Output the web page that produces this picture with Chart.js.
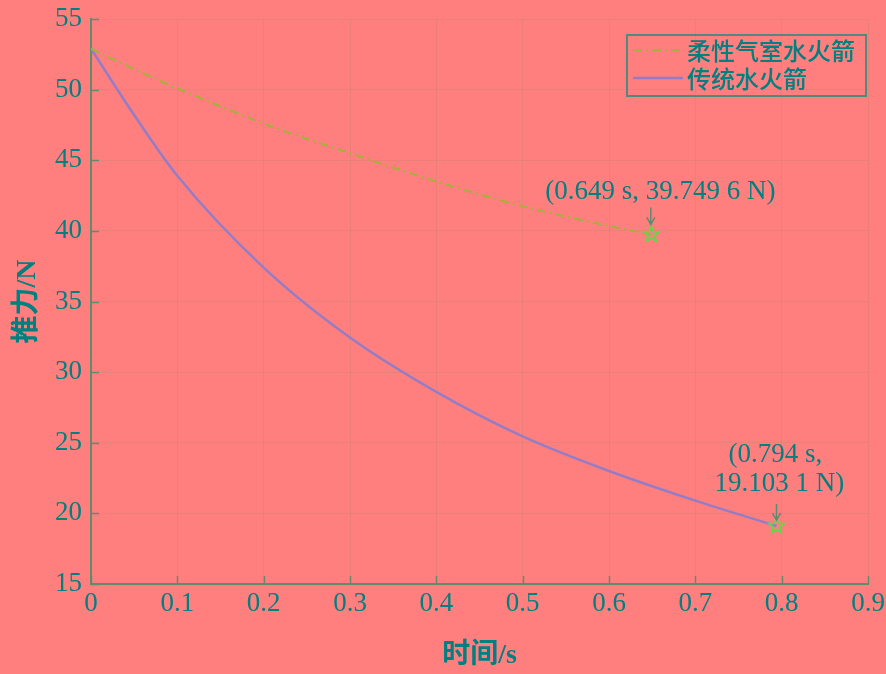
<!DOCTYPE html>
<html>
<head>
<meta charset="utf-8">
<script src="https://cdn.jsdelivr.net/npm/chart.js@4/dist/chart.umd.min.js"></script>
<style>
  html, body { margin: 0; padding: 0; background: #ff7f7f; }
  #wrap { width: 886px; height: 674px; }
</style>
</head>
<body>
<div id="wrap"><canvas id="c" width="886" height="674"></canvas></div>
<script>
// ---- data ----
const flexTime   = [0, 0.05, 0.1, 0.2, 0.3, 0.4, 0.5, 0.6, 0.649];
const flexThrust = [52.9, 51.45, 50.1, 47.6, 45.5, 43.5, 41.75, 40.35, 39.7496];
const tradTime   = [0, 0.05, 0.1, 0.2, 0.3, 0.4, 0.5, 0.6, 0.7, 0.794];
const tradThrust = [52.9, 48.2, 43.9, 37.4, 32.45, 28.6, 25.45, 23.0, 20.9, 19.1031];
const seriesNames = ['柔性气室水火箭', '传统水火箭'];
const xTickValues = [0, 0.1, 0.2, 0.3, 0.4, 0.5, 0.6, 0.7, 0.8, 0.9];
const xTickLabels = ['0', '0.1', '0.2', '0.3', '0.4', '0.5', '0.6', '0.7', '0.8', '0.9'];
const yTickValues = [15, 20, 25, 30, 35, 40, 45, 50, 55];
const yTickLabels = ['15', '20', '25', '30', '35', '40', '45', '50', '55'];
const annotations = [
  { series: 0, lines: ['(0.649 s, 39.749 6 N)'] },
  { series: 1, lines: ['(0.794 s,', '19.103 1 N)'] }
];
const xTitle = '时间/s';
const yTitle = '推力/N';

// ---- styles ----
const BG = '#ff7f7f';
const TEXT = '#008080';
const AXIS = '#5f8c6c';
const GRID = 'rgba(160,130,90,0.22)';
const FLEX_COLOR = '#a2b23a';
const TRAD_COLOR = '#957dc6';
const STAR_COLOR = '#5fd84a';
const ARROW_COLOR = '#5f8a72';
const SERIF = '"Liberation Serif", "Noto Sans CJK SC", serif';
const FLEX_DASH = [9, 4, 2, 4];

function toXY(xs, ys) { return xs.map((x, i) => ({ x: x, y: ys[i] })); }

function pentagram(ctx, cx, cy, R) {
  const r = R * 0.42;
  ctx.beginPath();
  for (let i = 0; i < 10; i++) {
    const a = -Math.PI / 2 + i * Math.PI / 5;
    const rad = i % 2 === 0 ? R : r;
    const px = cx + rad * Math.cos(a), py = cy + rad * Math.sin(a);
    if (i === 0) ctx.moveTo(px, py); else ctx.lineTo(px, py);
  }
  ctx.closePath();
  ctx.stroke();
}

function arrowDown(ctx, x, y1, y2) {
  ctx.beginPath();
  ctx.moveTo(x, y1); ctx.lineTo(x, y2);
  ctx.moveTo(x - 4, y2 - 7); ctx.lineTo(x, y2); ctx.lineTo(x + 4, y2 - 7);
  ctx.stroke();
}

const decorPlugin = {
  id: 'decor',
  beforeDraw(chart) {
    const ctx = chart.ctx;
    ctx.save();
    ctx.fillStyle = BG;
    ctx.fillRect(0, 0, chart.width, chart.height);
    ctx.restore();
  },
  afterDatasetsDraw(chart) {
    const ctx = chart.ctx;
    const xs = chart.scales.x, ys = chart.scales.y;
    const area = chart.chartArea;
    ctx.save();
    // inward tick marks
    ctx.strokeStyle = AXIS;
    ctx.lineWidth = 1.5;
    xTickValues.forEach(v => {
      const px = Math.round(xs.getPixelForValue(v)) + 0.5;
      ctx.beginPath(); ctx.moveTo(px, area.bottom); ctx.lineTo(px, area.bottom - 8); ctx.stroke();
    });
    yTickValues.forEach(v => {
      const py = Math.round(ys.getPixelForValue(v)) + 0.5;
      ctx.beginPath(); ctx.moveTo(area.left, py); ctx.lineTo(area.left + 8, py); ctx.stroke();
    });

    // end markers + annotations
    annotations.forEach(a => {
      const meta = chart.getDatasetMeta(a.series);
      const pt = meta.data[meta.data.length - 1];
      ctx.strokeStyle = STAR_COLOR;
      ctx.lineWidth = 1.8;
      pentagram(ctx, pt.x, pt.y, 8);
      ctx.strokeStyle = ARROW_COLOR;
      ctx.lineWidth = 1.5;
      ctx.fillStyle = TEXT;
      ctx.font = '27px ' + SERIF;
      ctx.textAlign = 'center';
      ctx.textBaseline = 'middle';
      if (a.lines.length === 1) {
        arrowDown(ctx, pt.x - 0.5, pt.y - 27, pt.y - 10);
        ctx.fillText(a.lines[0], pt.x + 9, pt.y - 43);
      } else {
        arrowDown(ctx, pt.x, pt.y - 22, pt.y - 6);
        ctx.fillText(a.lines[0], pt.x - 1, pt.y - 71);
        ctx.fillText(a.lines[1], pt.x + 3, pt.y - 42);
      }
    });

    // legend
    const bx = area.right - 241, by = area.top + 16, bw = 239, bh = 61;
    ctx.lineWidth = 2;
    ctx.strokeStyle = '#4f8a7c';
    ctx.strokeRect(bx, by, bw, bh);
    const rows = [by + 15, by + 43];
    chart.data.datasets.forEach((ds, i) => {
      ctx.strokeStyle = ds.borderColor;
      ctx.lineWidth = ds.borderWidth;
      ctx.setLineDash(ds.borderDash || []);
      ctx.beginPath();
      ctx.moveTo(bx + 6, rows[i]); ctx.lineTo(bx + 56, rows[i]);
      ctx.stroke();
      ctx.setLineDash([]);
      ctx.fillStyle = TEXT;
      ctx.font = '500 24px "Noto Sans CJK SC"';
      ctx.textAlign = 'left';
      ctx.textBaseline = 'middle';
      ctx.fillText(ds.label, bx + 60, rows[i] + 1);
    });
    ctx.restore();
  }
};

new Chart(document.getElementById('c'), {
  type: 'line',
  data: {
    datasets: [
      {
        label: seriesNames[0],
        data: toXY(flexTime, flexThrust),
        borderColor: FLEX_COLOR,
        borderWidth: 2,
        borderDash: FLEX_DASH,
        pointRadius: 0,
        cubicInterpolationMode: 'monotone',
        fill: false
      },
      {
        label: seriesNames[1],
        data: toXY(tradTime, tradThrust),
        borderColor: TRAD_COLOR,
        borderWidth: 2.5,
        pointRadius: 0,
        cubicInterpolationMode: 'monotone',
        fill: false
      }
    ]
  },
  options: {
    responsive: false,
    animation: false,
    layout: { padding: { top: 19, right: 18, left: 0, bottom: 0 } },
    plugins: { legend: { display: false }, tooltip: { enabled: false } },
    scales: {
      x: {
        type: 'linear',
        min: 0, max: 0.9,
        afterBuildTicks(scale) { scale.ticks = xTickValues.map(v => ({ value: v })); },
        afterFit(scale) { scale.height = 90; scale.paddingLeft = 0; scale.paddingRight = 0; },
        ticks: {
          color: TEXT,
          font: { family: SERIF, size: 27 },
          padding: 4,
          maxRotation: 0,
          autoSkip: false,
          callback: (v, i) => xTickLabels[i]
        },
        grid: { color: GRID, lineWidth: 1, drawTicks: false },
        border: { color: AXIS, width: 2 },
        title: {
          display: true, text: xTitle, color: TEXT,
          font: { family: SERIF, size: 28, weight: 'bold' },
          padding: { top: 0, bottom: 1 }
        }
      },
      y: {
        type: 'linear',
        min: 15, max: 55,
        afterBuildTicks(scale) { scale.ticks = yTickValues.map(v => ({ value: v })); },
        afterFit(scale) { scale.width = 91; scale.paddingTop = 0; scale.paddingBottom = 0; },
        ticks: {
          color: TEXT,
          font: { family: SERIF, size: 27 },
          padding: 9,
          autoSkip: false,
          callback: (v, i) => yTickLabels[i]
        },
        grid: { color: GRID, lineWidth: 1, drawTicks: false },
        border: { color: AXIS, width: 2 },
        title: {
          display: true, text: yTitle, color: TEXT,
          font: { family: SERIF, size: 28, weight: 'bold' },
          padding: { top: 11, bottom: 0 }
        }
      }
    }
  },
  plugins: [decorPlugin]
});
</script>
</body>
</html>
